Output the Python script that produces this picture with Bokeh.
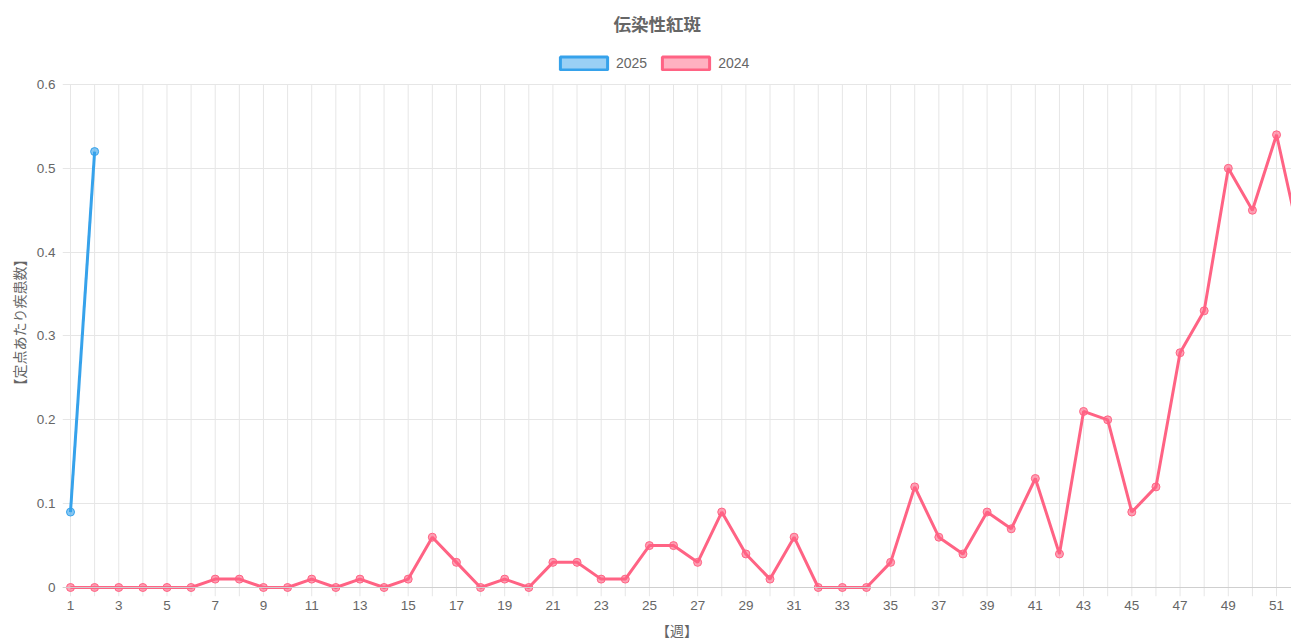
from bokeh.plotting import figure
from bokeh.models import ColumnDataSource, Legend, LegendItem, FixedTicker, Span
from bokeh.embed import file_html
from bokeh.resources import INLINE

# ---- data ----
weeks_2024 = list(range(1, 53))
values_2024 = [0, 0, 0, 0, 0, 0, 0.01, 0.01, 0, 0,
               0.01, 0, 0.01, 0, 0.01, 0.06, 0.03, 0, 0.01, 0,
               0.03, 0.03, 0.01, 0.01, 0.05, 0.05, 0.03, 0.09, 0.04, 0.01,
               0.06, 0, 0, 0, 0.03, 0.12, 0.06, 0.04, 0.09, 0.07,
               0.13, 0.04, 0.21, 0.20, 0.09, 0.12, 0.28, 0.33, 0.50, 0.45,
               0.54, 0.41]
weeks_2025 = [1, 2]
values_2025 = [0.09, 0.52]
x_ticks = list(range(1, 53))
x_tick_labels = {w: (str(w) if w % 2 == 1 else "") for w in x_ticks}
y_ticks = [0, 0.1, 0.2, 0.3, 0.4, 0.5, 0.6]
y_tick_labels = ["0", "0.1", "0.2", "0.3", "0.4", "0.5", "0.6"]
title_text = "伝染性紅斑"
y_title = "【定点あたり疾患数】"
x_title = "【週】"

BLUE = "#36a2eb"
RED = "#ff6384"
GRAY = "#666666"
GRID = "#e6e6e6"
FONT = "'Liberation Sans', 'Noto Sans CJK JP', sans-serif"
JFONT = "'Noto Sans CJK JP', sans-serif"

Y_START = -0.01074
Y_MAX = 0.6
Y_END = 0.64294

p = figure(width=1291, height=642, output_backend="svg", toolbar_location=None,
           x_range=(0.6683, 51.62), y_range=(Y_START, Y_END),
           title=title_text,
           min_border_left=62, min_border_right=0, min_border_top=48, min_border_bottom=0)
p.outline_line_color = None
p.background_fill_color = "white"
p.border_fill_color = "white"

# title
p.title.align = "left"
p.title.offset = 551
p.title.vertical_align = "top"
p.title.text_font = JFONT
p.title.text_font_size = "17.5px"
p.title.text_font_style = "bold"
p.title.text_color = GRAY
p.title.standoff = 21

# axes
p.xaxis.ticker = FixedTicker(ticks=x_ticks)
p.xaxis.major_label_overrides = x_tick_labels
p.yaxis.ticker = FixedTicker(ticks=y_ticks)
p.yaxis.major_label_overrides = {v: s for v, s in zip(y_ticks, y_tick_labels)}
for ax in (p.xaxis, p.yaxis):
    ax.axis_line_color = None
    ax.major_tick_line_color = None
    ax.minor_tick_line_color = None
    ax.major_tick_out = 0
    ax.major_tick_in = 0
    ax.minor_tick_out = 0
    ax.minor_tick_in = 0
    ax.major_label_text_color = GRAY
    ax.major_label_text_font = FONT
    ax.major_label_text_font_size = "13.5px"
    ax.axis_label_text_color = GRAY
    ax.axis_label_text_font = JFONT
    ax.axis_label_text_font_size = "14px"
    ax.axis_label_text_font_style = "normal"
p.xaxis.axis_label = x_title
p.yaxis.axis_label = y_title
p.xaxis.major_label_standoff = 4
p.xaxis.axis_label_standoff = 7
p.yaxis.major_label_standoff = 7
p.yaxis.axis_label_standoff = 5

# grid: horizontal lines from the y axis grid, vertical lines limited to the data area
p.xgrid.visible = False
p.ygrid.ticker = FixedTicker(ticks=y_ticks)
p.ygrid.grid_line_color = GRID
vgrid = ColumnDataSource(dict(x=x_ticks, y0=[Y_START] * len(x_ticks), y1=[Y_MAX] * len(x_ticks)))
p.segment(x0="x", y0="y0", x1="x", y1="y1", source=vgrid, line_color=GRID, line_width=1,
          level="underlay")
p.add_layout(Span(location=0, dimension="width", line_color="#cfcfcf", line_width=1))

# series
s24 = ColumnDataSource(dict(x=weeks_2024, y=values_2024))
s25 = ColumnDataSource(dict(x=weeks_2025, y=values_2025))
p.line("x", "y", source=s24, line_color=RED, line_width=3)
p.scatter("x", "y", source=s24, size=8, fill_color=RED, fill_alpha=0.6,
          line_color=RED, line_width=1)
p.line("x", "y", source=s25, line_color=BLUE, line_width=3)
p.scatter("x", "y", source=s25, size=8, fill_color=BLUE, fill_alpha=0.6,
          line_color=BLUE, line_width=1)

# legend boxes (quads with no visible extent, used only as legend glyphs)
nan = float("nan")
box = dict(left=[nan], right=[nan], top=[nan], bottom=[nan])
q25 = p.quad(source=ColumnDataSource(box), left="left", right="right", top="top", bottom="bottom",
             fill_color=BLUE, fill_alpha=0.5, line_color=BLUE, line_width=3)
q24 = p.quad(source=ColumnDataSource(dict(box)), left="left", right="right", top="top", bottom="bottom",
             fill_color=RED, fill_alpha=0.5, line_color=RED, line_width=3)
legend = Legend(items=[LegendItem(label="2025", renderers=[q25]),
                       LegendItem(label="2024", renderers=[q24])],
                orientation="horizontal", location=(492, 525),
                glyph_width=59, glyph_height=16, label_height=16, spacing=9, label_standoff=3,
                padding=0, margin=0, border_line_color=None, background_fill_alpha=0,
                label_text_font=FONT, label_text_font_size="14px", label_text_color=GRAY)
p.add_layout(legend, "center")

open("out.html", "w").write(file_html(p, INLINE))
